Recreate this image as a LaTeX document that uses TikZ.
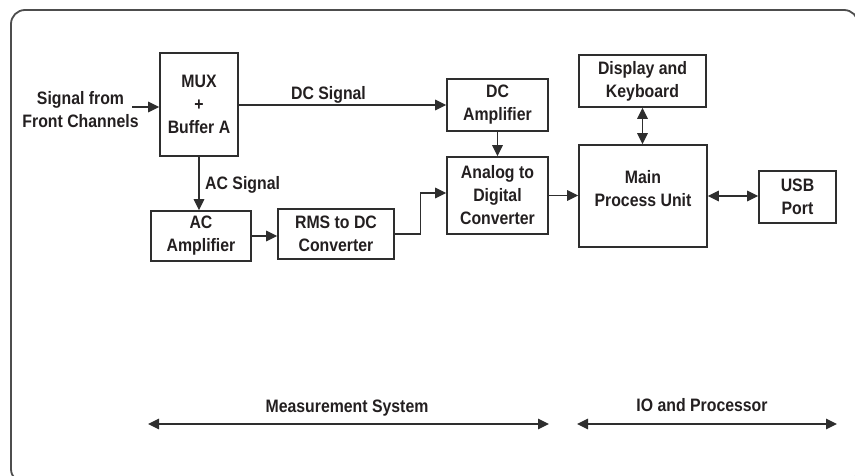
\documentclass[tikz,border=0pt]{standalone}
\usepackage{fontspec}
\setmainfont{Liberation Sans}[FakeStretch=0.88]
\usetikzlibrary{arrows.meta}
\definecolor{ink}{HTML}{231F20}
\definecolor{linec}{HTML}{2E2E2E}
\definecolor{framec}{HTML}{4D4D4D}
\begin{document}
\begin{tikzpicture}[x=1pt,y=-1pt,
  font=\fontsize{18}{23}\selectfont\bfseries, text=ink,
  box/.style={draw=linec, line width=1.6pt, align=center, inner sep=0pt},
  lbl/.style={align=center, inner sep=0pt},
  arr/.style={draw=linec, line width=1.3pt, -{Triangle[length=11pt,width=10.5pt]}},
  darr/.style={draw=linec, line width=1.3pt, {Triangle[length=11pt,width=10.5pt]}-{Triangle[length=11pt,width=10.5pt]}}]
\useasboundingbox (0,0) rectangle (855,476);
\clip (0,0) rectangle (855,476);
\draw[framec, line width=1.8pt, rounded corners=14pt] (11,10) rectangle (858,483);

% boxes
\node[box, minimum width=78pt, minimum height=103pt] (mux) at (199,104.5) {MUX\\+\\Buffer A};
\node[box, minimum width=101pt, minimum height=52pt] (dcamp) at (497.5,105) {DC\\Amplifier};
\node[box, minimum width=101pt, minimum height=77pt] (adc) at (497.5,195.5) {Analog to\\Digital\\Converter};
\node[box, minimum width=127pt, minimum height=52pt] (disp) at (642.5,81) {Display and\\Keyboard};
\node[box, minimum width=128pt, minimum height=102pt] (main) at (643,196) {};
\node[lbl] (mainlbl) at (643,189) {Main\\Process Unit};
\node[box, minimum width=77pt, minimum height=52pt] (usb) at (797.5,197) {USB\\Port};
\node[box, minimum width=100pt, minimum height=50pt] (acamp) at (201,236) {AC\\Amplifier};
\node[box, minimum width=116pt, minimum height=50pt] (rms) at (336,234) {RMS to DC\\Converter};

% labels
\node[lbl] (inlbl) at (80.5,109.5) {Signal from\\Front Channels};
\node[lbl, anchor=base] (dclbl) at (328.5,99.3) {DC Signal};
\node[lbl, anchor=base west] (aclbl) at (205,189.3) {AC Signal};
\node[lbl, anchor=base] (mslbl) at (347,412) {Measurement System};
\node[lbl, anchor=base] (iolbl) at (702,411) {IO and Processor};

% free ends
\coordinate (inp) at (132,107);
\coordinate (ms1) at (148,424);
\coordinate (ms2) at (549,424);
\coordinate (io1) at (577,424);
\coordinate (io2) at (837,424);

% connectors
\draw[arr] (inp) -- (inp -| mux.west);
\draw[arr] (mux.east |- dcamp.west) -- (dcamp.west);
\draw[arr] (mux.south) -- (mux.south |- acamp.north);
\draw[arr] (acamp.east) -- (acamp.east -| rms.west);
\draw[arr] (rms.east) -- ++(26,0) |- ([yshift=2.5pt]adc.west);
\draw[arr] (dcamp.south) -- (adc.north);
\draw[arr] (adc.east) -- (adc.east -| main.west);
\draw[darr] (disp.south) -- (disp.south |- main.north);
\draw[darr] (main.east) -- (main.east -| usb.west);
\draw[darr] (ms1) -- (ms2);
\draw[darr] (io1) -- (io2);
\end{tikzpicture}
\end{document}
